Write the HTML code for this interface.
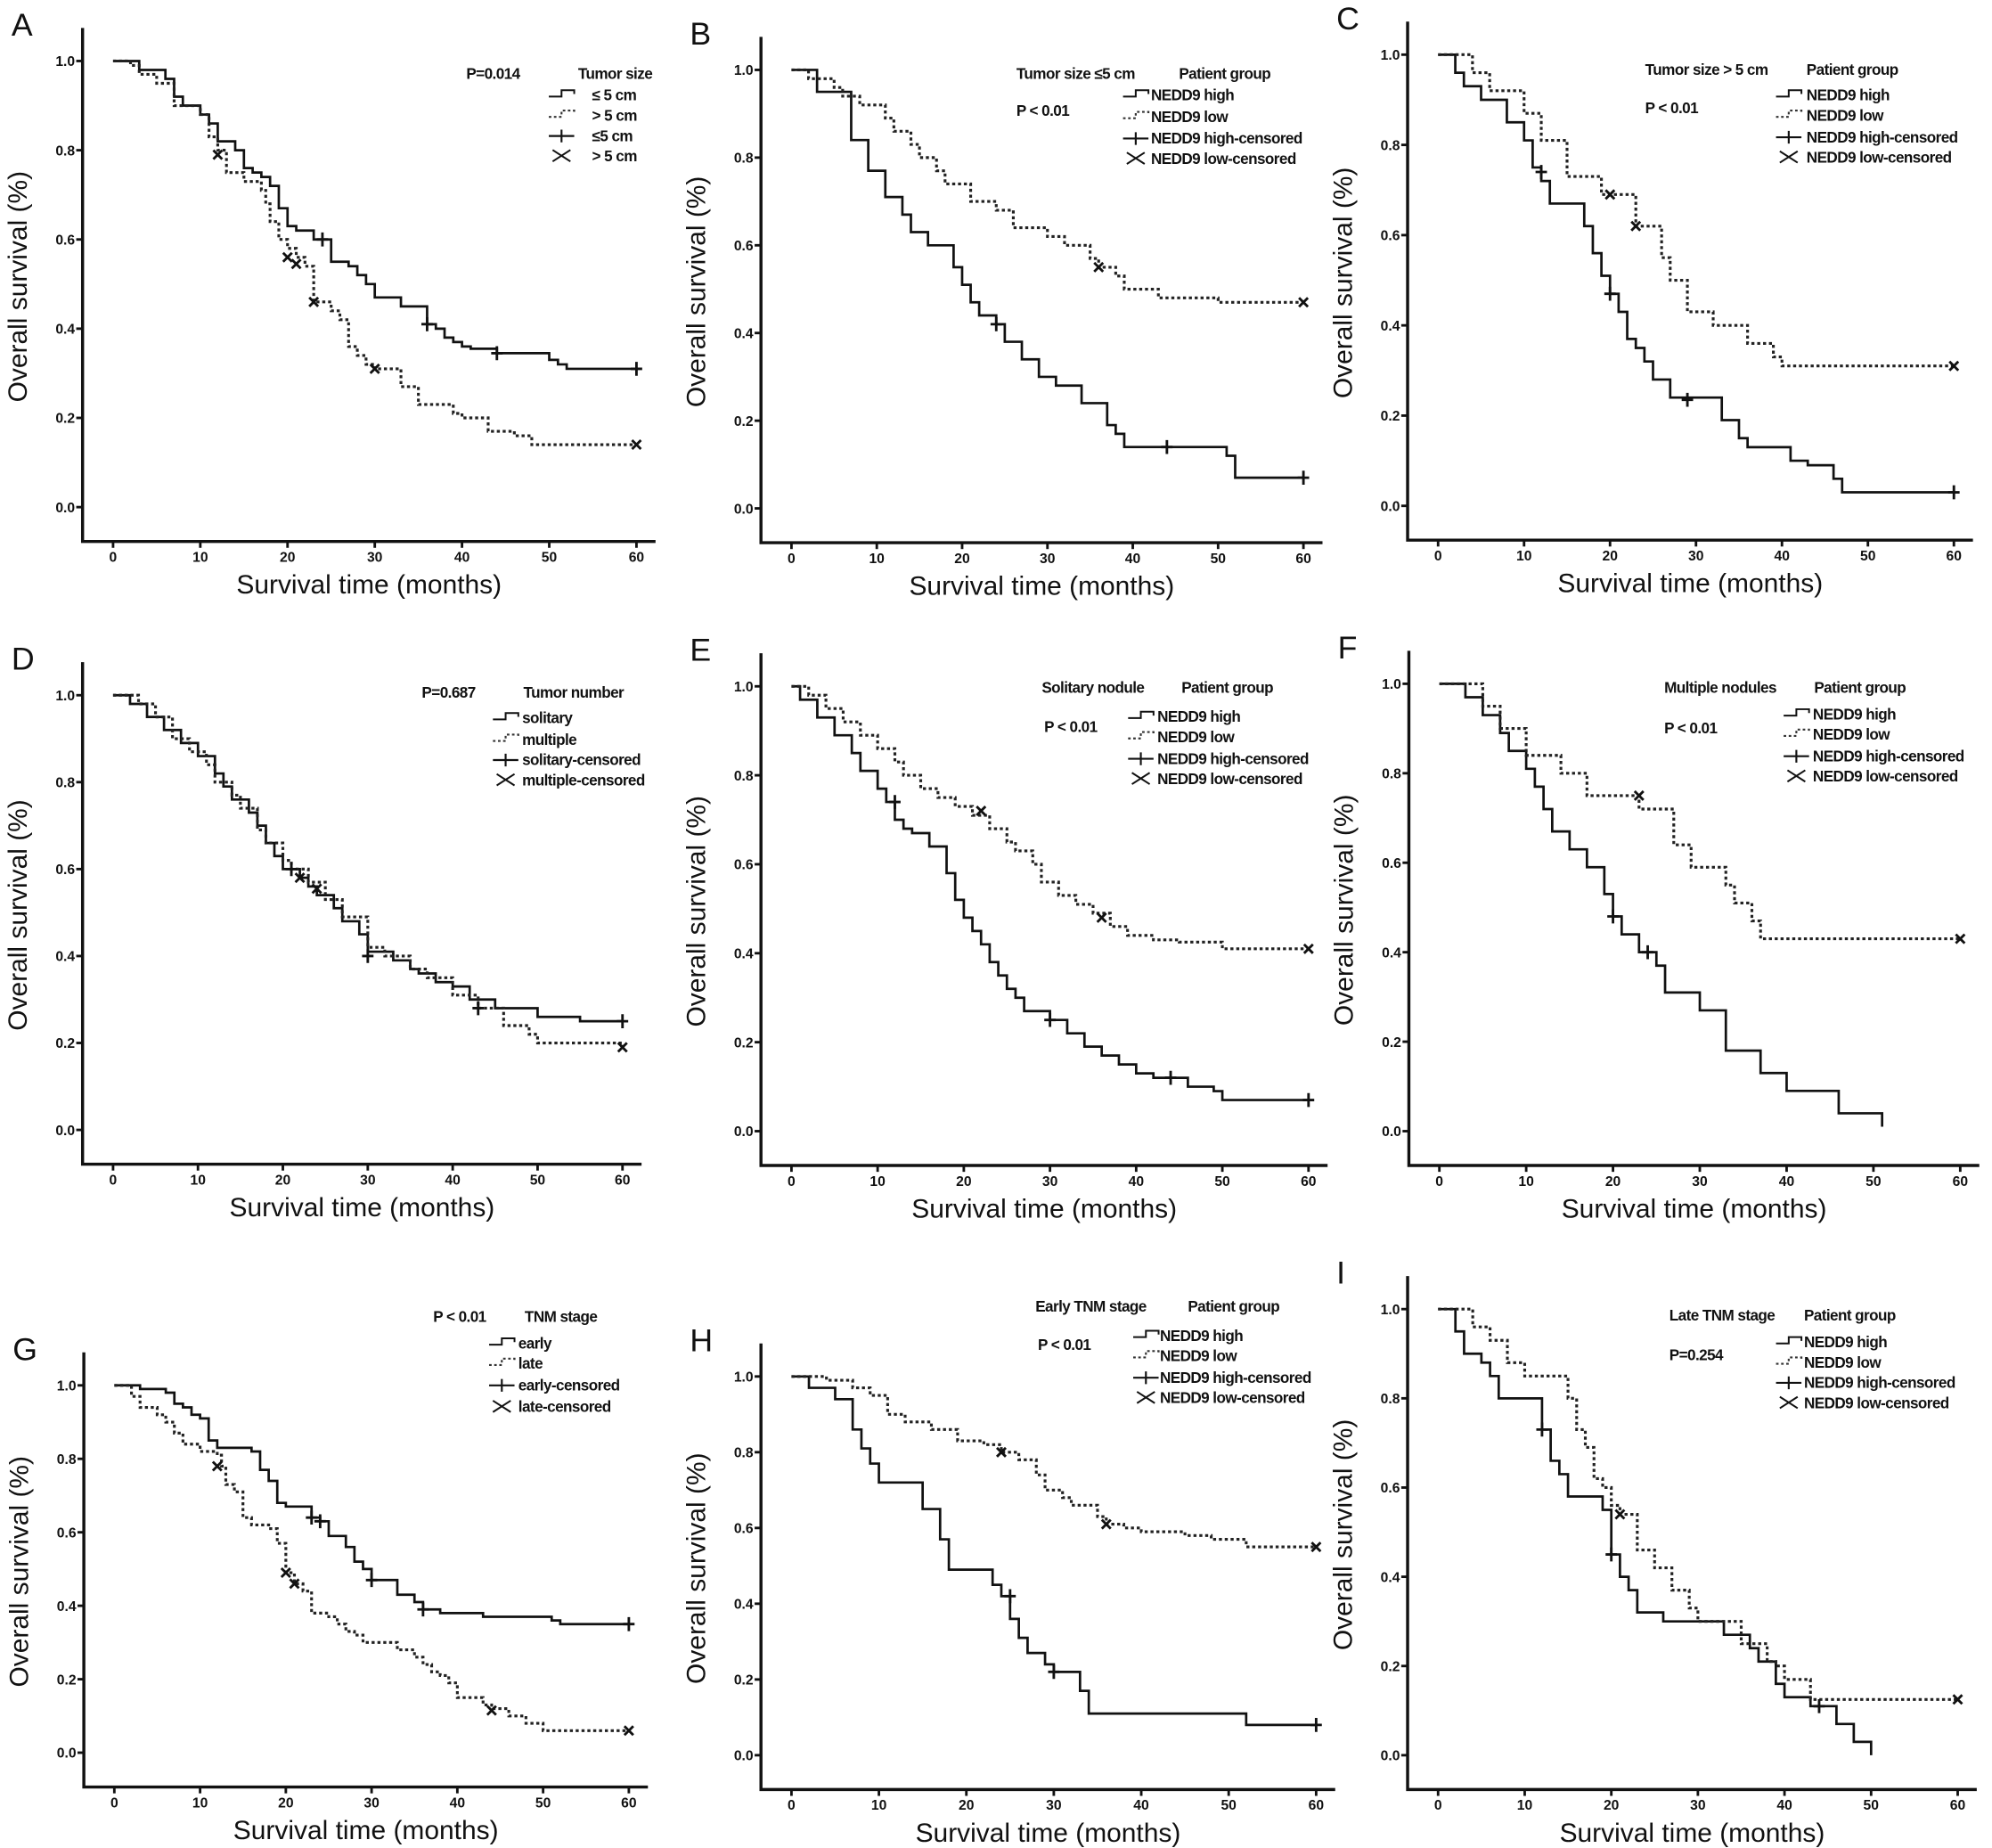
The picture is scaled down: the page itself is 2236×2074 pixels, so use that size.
<!DOCTYPE html>
<html><head><meta charset="utf-8">
<style>
html,body{margin:0;padding:0;background:#fff;}
svg{display:block;}
text{font-family:"Liberation Sans",Arial,sans-serif;fill:#111;}
.tick{font-size:11px;font-weight:bold;}
.title{font-size:21px;}
.leg{font-size:12px;font-weight:bold;letter-spacing:-0.4px;}
.letter{font-size:25px;}
</style></head>
<body>
<svg id="fig" width="2236" height="2074" viewBox="0 0 1568 1454" preserveAspectRatio="none" xmlns="http://www.w3.org/2000/svg"></svg>
<script>
const xTicks = [0,10,20,30,40,50,60];
const yTicks = [0.0,0.2,0.4,0.6,0.8,1.0];
const yTickLabels = ["0.0","0.2","0.4","0.6","0.8","1.0"];

const A_solid = [[0,1],[3,.98],[6,.96],[7,.92],[8,.9],[10,.88],[11,.86],[12,.82],[14,.8],[15,.76],[16,.75],[17,.74],[18,.72],[19,.67],[20,.63],[21,.62],[23,.6],[25,.55],[27,.54],[28,.52],[29,.5],[30,.47],[33,.45],[36,.41],[37,.4],[38,.38],[39,.37],[40,.36],[41,.355],[44,.345],[50,.33],[51,.32],[52,.31],[60,.31]];
const A_solidCens = [[24,.6],[36,.41],[44,.345],[60,.31]];
const A_dot = [[0,1],[2,.99],[3,.97],[5,.95],[7,.9],[9,.9],[10,.88],[11,.83],[12,.8],[13,.75],[15,.73],[17,.71],[17.5,.68],[18,.64],[19,.6],[20,.58],[21,.56],[22,.54],[23,.52],[23,.46],[25,.44],[26,.42],[27,.39],[27,.36],[28,.34],[29,.32],[30,.31],[33,.27],[35,.23],[39,.21],[40,.2],[43,.17],[46,.16],[48,.14],[60,.14]];
const A_dotCens = [[12,.79],[20,.56],[21,.545],[23,.46],[30,.31],[60,.14]];

const B_solid = [[0,1],[3,.95],[7,.84],[9,.77],[11,.71],[13,.67],[14,.63],[16,.6],[19,.55],[20,.51],[21,.47],[22,.44],[24,.42],[25,.38],[27,.34],[29,.3],[31,.28],[34,.24],[37,.19],[38,.17],[39,.14],[51,.12],[52,.07],[60,.07]];
const B_solidCens = [[24,.42],[44,.14],[60,.07]];
const B_dot = [[0,1],[2,.98],[5,.96],[6,.94],[8,.92],[11,.89],[12,.86],[14,.83],[15,.8],[17,.77],[18,.74],[21,.7],[24,.68],[26,.64],[30,.62],[32,.6],[35,.57],[36,.55],[38,.53],[39,.5],[43,.48],[50,.47],[60,.47]];
const B_dotCens = [[36,.55],[60,.47]];

const C_solid = [[0,1],[2,.96],[3,.93],[5,.9],[8,.85],[10,.81],[11,.75],[12,.72],[13,.67],[17,.62],[18,.56],[19,.51],[20,.47],[21,.43],[22,.37],[23,.35],[24,.32],[25,.28],[27,.24],[33,.19],[35,.15],[36,.13],[41,.1],[43,.09],[46,.06],[47,.03],[60,.03]];
const C_solidCens = [[12,.74],[20,.47],[29,.235],[60,.03]];
const C_dot = [[0,1],[4,.96],[6,.92],[10,.87],[12,.81],[15,.73],[19,.69],[23,.62],[26,.55],[27,.5],[29,.43],[32,.4],[36,.36],[39,.33],[40,.31],[45,.31],[60,.31]];
const C_dotCens = [[20,.69],[23,.62],[60,.31]];

const D_solid = [[0,1],[2,.98],[4,.95],[6,.92],[8,.89],[10,.86],[12,.82],[13,.79],[14,.76],[16,.73],[17,.7],[18,.66],[19,.63],[20,.6],[22,.58],[23,.56],[24,.54],[26,.51],[27,.48],[29,.45],[30,.41],[33,.39],[35,.37],[36,.36],[38,.34],[40,.33],[42,.3],[45,.28],[50,.26],[55,.25],[60,.25]];
const D_solidCens = [[21,.6],[30,.4],[43,.28],[60,.25]];
const D_dot = [[0,1],[3,.98],[5,.95],[7,.9],[9,.87],[11,.84],[12,.8],[14,.77],[15,.74],[17,.69],[18,.66],[20,.62],[21,.6],[23,.57],[25,.53],[27,.49],[30,.42],[32,.4],[35,.37],[37,.35],[40,.31],[43,.28],[46,.24],[49,.22],[50,.2],[60,.19]];
const D_dotCens = [[22,.58],[24,.555],[60,.19]];

const E_solid = [[0,1],[1,.97],[3,.93],[5,.89],[7,.85],[8,.81],[10,.77],[11,.74],[12,.7],[13,.68],[14,.67],[16,.64],[18,.58],[19,.52],[20,.48],[21,.45],[22,.42],[23,.38],[24,.35],[25,.32],[26,.3],[27,.27],[30,.25],[32,.22],[34,.19],[36,.17],[38,.15],[40,.13],[42,.12],[46,.1],[49,.09],[50,.07],[60,.07]];
const E_solidCens = [[12,.74],[30,.25],[44,.12],[60,.07]];
const E_dot = [[0,1],[2,.98],[4,.95],[6,.92],[8,.89],[10,.86],[12,.83],[13,.8],[15,.77],[17,.75],[19,.73],[21,.71],[23,.68],[25,.65],[26,.63],[28,.6],[29,.56],[31,.53],[33,.51],[35,.49],[37,.46],[39,.44],[42,.43],[45,.425],[50,.41],[60,.41]];
const E_dotCens = [[22,.72],[36,.48],[60,.41]];

const F_solid = [[0,1],[3,.97],[5,.93],[7,.89],[8,.85],[10,.81],[11,.77],[12,.72],[13,.67],[15,.63],[17,.59],[19,.53],[20,.48],[21,.44],[23,.4],[25,.37],[26,.31],[30,.27],[33,.18],[37,.13],[40,.09],[46,.04],[51,.01]];
const F_solidCens = [[20,.48],[24,.4]];
const F_dot = [[0,1],[5,.95],[7,.9],[10,.84],[14,.8],[17,.75],[23,.72],[27,.64],[29,.59],[33,.55],[34,.51],[36,.47],[37,.43],[45,.43],[60,.43]];
const F_dotCens = [[23,.75],[60,.43]];

const G_solid = [[0,1],[3,.99],[6,.98],[7,.95],[8,.94],[9,.92],[10,.91],[11,.85],[12,.83],[16,.82],[17,.77],[18,.74],[19,.68],[20,.67],[23,.64],[24,.63],[25,.59],[27,.56],[28,.52],[29,.5],[30,.47],[33,.43],[35,.41],[36,.39],[38,.38],[43,.37],[51,.36],[52,.35],[60,.35]];
const G_solidCens = [[23,.64],[24,.63],[30,.47],[36,.39],[60,.35]];
const G_dot = [[0,1],[2,.97],[3,.94],[5,.92],[6,.9],[7,.87],[8,.84],[10,.82],[12,.81],[12.5,.78],[13,.73],[14,.71],[15,.69],[15,.64],[16,.62],[18,.61],[19,.57],[20,.52],[20,.49],[21,.46],[22,.44],[23,.38],[25,.37],[26,.35],[27,.33],[28,.32],[29,.3],[33,.28],[35,.26],[36,.24],[37,.22],[38,.21],[39,.19],[40,.15],[43,.13],[44,.12],[46,.1],[48,.08],[50,.06],[60,.06]];
const G_dotCens = [[12,.78],[20,.49],[21,.46],[44,.115],[60,.06]];

const H_solid = [[0,1],[2,.97],[5,.94],[7,.86],[8,.81],[9,.77],[10,.72],[13,.72],[15,.65],[17,.57],[18,.49],[21,.49],[23,.45],[24,.42],[25,.36],[26,.31],[27,.27],[29,.24],[30,.22],[33,.17],[34,.11],[51,.11],[52,.08],[60,.08]];
const H_solidCens = [[25,.42],[30,.22],[60,.08]];
const H_dot = [[0,1],[4,.99],[7,.97],[9,.95],[11,.9],[13,.88],[16,.86],[19,.83],[22,.82],[24,.8],[26,.78],[28,.74],[29,.7],[31,.68],[32,.66],[35,.63],[36,.61],[38,.6],[40,.59],[45,.58],[48,.57],[52,.55],[60,.55]];
const H_dotCens = [[24,.8],[36,.61],[60,.55]];

const I_solid = [[0,1],[2,.95],[3,.9],[5,.88],[6,.85],[7,.8],[12,.8],[12,.73],[13,.66],[14,.63],[15,.58],[19,.58],[19,.55],[20,.45],[21,.4],[22,.37],[23,.32],[26,.32],[26,.3],[33,.29],[33,.27],[35,.27],[36,.24],[37,.21],[39,.16],[40,.13],[43,.13],[43,.11],[46,.07],[48,.03],[50,.03],[50,0]];
const I_solidCens = [[12,.73],[20,.45],[44,.11]];
const I_dot = [[0,1],[4,.96],[6,.93],[8,.88],[10,.85],[14,.85],[15,.8],[16,.73],[17,.69],[18,.69],[18,.62],[19,.6],[20,.56],[21,.54],[23,.54],[23,.46],[25,.45],[25,.42],[27,.42],[27,.37],[29,.37],[29,.33],[30,.3],[35,.29],[35,.25],[37,.25],[38,.21],[39,.2],[40,.17],[43,.17],[43,.125],[60,.125]];
const I_dotCens = [[21,.54],[60,.125]];

const panels = [
 {id:"A",x0:89,x60:501,y1:48,y0:399,solid:A_solid,sc:A_solidCens,dot:A_dot,dc:A_dotCens,
  notes:[["P=0.014",367,62],["Tumor size",455,62]],legX:432,legText:466,legY:[76,92,108,124],
  leg:["≤ 5 cm","> 5 cm","≤5 cm","> 5 cm"]},
 {id:"B",x0:623,x60:1026,y1:55,y0:400,solid:B_solid,sc:B_solidCens,dot:B_dot,dc:B_dotCens,
  notes:[["Tumor size ≤5 cm",800,62],["Patient group",928,62],["P < 0.01",800,91]],legX:884,legText:906,legY:[76,93,110,126],
  leg:["NEDD9 high","NEDD9 low","NEDD9 high-censored","NEDD9 low-censored"]},
 {id:"C",x0:1132,x60:1538,y1:43,y0:398,solid:C_solid,sc:C_solidCens,dot:C_dot,dc:C_dotCens,
  notes:[["Tumor size > 5 cm",1295,59],["Patient group",1422,59],["P < 0.01",1295,89]],legX:1398,legText:1422,legY:[76,92,109,125],
  leg:["NEDD9 high","NEDD9 low","NEDD9 high-censored","NEDD9 low-censored"]},
 {id:"D",x0:89,x60:490,y1:547,y0:889,solid:D_solid,sc:D_solidCens,dot:D_dot,dc:D_dotCens,
  notes:[["P=0.687",332,549],["Tumor number",412,549]],legX:388,legText:411,legY:[566,583,599,615],
  leg:["solitary","multiple","solitary-censored","multiple-censored"]},
 {id:"E",x0:623,x60:1030,y1:540,y0:890,solid:E_solid,sc:E_solidCens,dot:E_dot,dc:E_dotCens,
  notes:[["Solitary nodule",820,545],["Patient group",930,545],["P < 0.01",822,576]],legX:888,legText:911,legY:[565,581,598,614],
  leg:["NEDD9 high","NEDD9 low","NEDD9 high-censored","NEDD9 low-censored"]},
 {id:"F",x0:1133,x60:1543,y1:538,y0:890,solid:F_solid,sc:F_solidCens,dot:F_dot,dc:F_dotCens,
  notes:[["Multiple nodules",1310,545],["Patient group",1428,545],["P < 0.01",1310,577]],legX:1404,legText:1427,legY:[563,579,596,612],
  leg:["NEDD9 high","NEDD9 low","NEDD9 high-censored","NEDD9 low-censored"]},
 {id:"G",x0:90,x60:495,y1:1090,y0:1379,solid:G_solid,sc:G_solidCens,dot:G_dot,dc:G_dotCens,
  notes:[["P < 0.01",341,1040],["TNM stage",413,1040]],legX:385,legText:408,legY:[1058,1074,1091,1108],
  leg:["early","late","early-censored","late-censored"]},
 {id:"H",x0:623,x60:1036,y1:1083,y0:1381,solid:H_solid,sc:H_solidCens,dot:H_dot,dc:H_dotCens,
  notes:[["Early TNM stage",815,1032],["Patient group",935,1032],["P < 0.01",817,1062]],legX:892,legText:913,legY:[1052,1068,1085,1101],
  leg:["NEDD9 high","NEDD9 low","NEDD9 high-censored","NEDD9 low-censored"]},
 {id:"I",x0:1132,x60:1541,y1:1030,y0:1381,solid:I_solid,sc:I_solidCens,dot:I_dot,dc:I_dotCens,
  notes:[["Late TNM stage",1314,1039],["Patient group",1420,1039],["P=0.254",1314,1070]],legX:1398,legText:1420,legY:[1057,1073,1089,1105],
  leg:["NEDD9 high","NEDD9 low","NEDD9 high-censored","NEDD9 low-censored"]}
];

const NS="http://www.w3.org/2000/svg";
const svg=document.getElementById("fig");
function mk(tag,attrs,parent){const e=document.createElementNS(NS,tag);for(const k in attrs)e.setAttribute(k,attrs[k]);(parent||svg).appendChild(e);return e;}
function txt(s,x,y,cls,parent,anchor){const t=mk("text",{x:x,y:y,"class":cls,"text-anchor":anchor||"start"},parent);t.textContent=s;return t;}

function stepPath(pts,sx,sy){
  let d="M"+sx(pts[0][0])+","+sy(pts[0][1]);
  for(let i=1;i<pts.length;i++){
    d+=" H"+sx(pts[i][0])+" V"+sy(pts[i][1]);
  }
  return d;
}
function plus(g,x,y){mk("path",{d:`M${x-4.5},${y} H${x+4.5} M${x},${y-5.5} V${y+5.5}`,stroke:"#111","stroke-width":2,fill:"none"},g);}
function cross(g,x,y){mk("path",{d:`M${x-3.5},${y-3.5} L${x+3.5},${y+3.5} M${x-3.5},${y+3.5} L${x+3.5},${y-3.5}`,stroke:"#111","stroke-width":2,fill:"none"},g);}

panels.forEach(p=>{
  const sx=t=>p.x0+(p.x60-p.x0)*t/60;
  const sy=v=>p.y0-(p.y0-p.y1)*v;
  const g=mk("g",{});
  
  
  const ax=p.x0-24, ay=p.y0+27;
  const axes=mk("path",{d:`M${ax},${p.y1-26} V${ay} H${p.x60+15}`,stroke:"#111","stroke-width":2.4,fill:"none"},g);
  
  
  xTicks.forEach(t=>{
    mk("line",{x1:sx(t),x2:sx(t),y1:ay,y2:ay+5,stroke:"#111","stroke-width":2},g);
    const l=txt(String(t),sx(t),ay+16,"tick",g,"middle");
    
    
  });
  yTicks.forEach((v,i)=>{
    mk("line",{x1:ax-5,x2:ax,y1:sy(v),y2:sy(v),stroke:"#111","stroke-width":2},g);
    const l=txt(yTickLabels[i],ax-6,sy(v)+4,"tick",g,"end");
    
    
  });
  const xt=txt("Survival  time  (months)",(ax+p.x60+15)/2,p.y0+68,"title",g,"middle");
  
  
  const ycx=p.x0-68, ycy=(p.y1+p.y0)/2+2;
  const yt=txt("Overall  survival  (%)",ycx,ycy,"title",g,"middle");
  yt.setAttribute("transform",`rotate(-90 ${ycx} ${ycy})`);
  
  
  const lt=txt(p.id,p.x0-80,p.y1-20,"letter",g);
  
  

  const s1=mk("path",{d:stepPath(p.solid,sx,sy),stroke:"#111","stroke-width":1.9,fill:"none"},g);
  
  
  const s2=mk("path",{d:stepPath(p.dot,sx,sy),stroke:"#222","stroke-width":2.2,fill:"none","stroke-dasharray":"2.4,2.2"},g);
  
  
  p.sc.forEach(c=>plus(g,sx(c[0]),sy(c[1])));
  p.dc.forEach(c=>cross(g,sx(c[0]),sy(c[1])));

  p.notes.forEach(n=>{
    const t=txt(n[0],n[1],n[2],"leg",g);
    
    
  });
  const L=p.legX, ys=p.legY;
  mk("path",{d:`M${L},${ys[0]} H${L+10} V${ys[0]-5} H${L+20} V${ys[0]-2}`,stroke:"#111","stroke-width":1.4,fill:"none"},g);
  mk("path",{d:`M${L},${ys[1]} H${L+10} V${ys[1]-5} H${L+20} V${ys[1]-2}`,stroke:"#333","stroke-width":1.5,fill:"none","stroke-dasharray":"2,2"},g);
  mk("path",{d:`M${L},${ys[2]-1} H${L+20} M${L+10},${ys[2]-6} V${ys[2]+4}`,stroke:"#111","stroke-width":1.5,fill:"none"},g);
  mk("path",{d:`M${L+3},${ys[3]-6} L${L+17},${ys[3]+3} M${L+3},${ys[3]+3} L${L+17},${ys[3]-6}`,stroke:"#111","stroke-width":1.4,fill:"none"},g);
  p.leg.forEach((s,i)=>{
    const t=txt(s,p.legText,ys[i]+3,"leg",g);
    
    
  });
});
</script>
</body></html>
